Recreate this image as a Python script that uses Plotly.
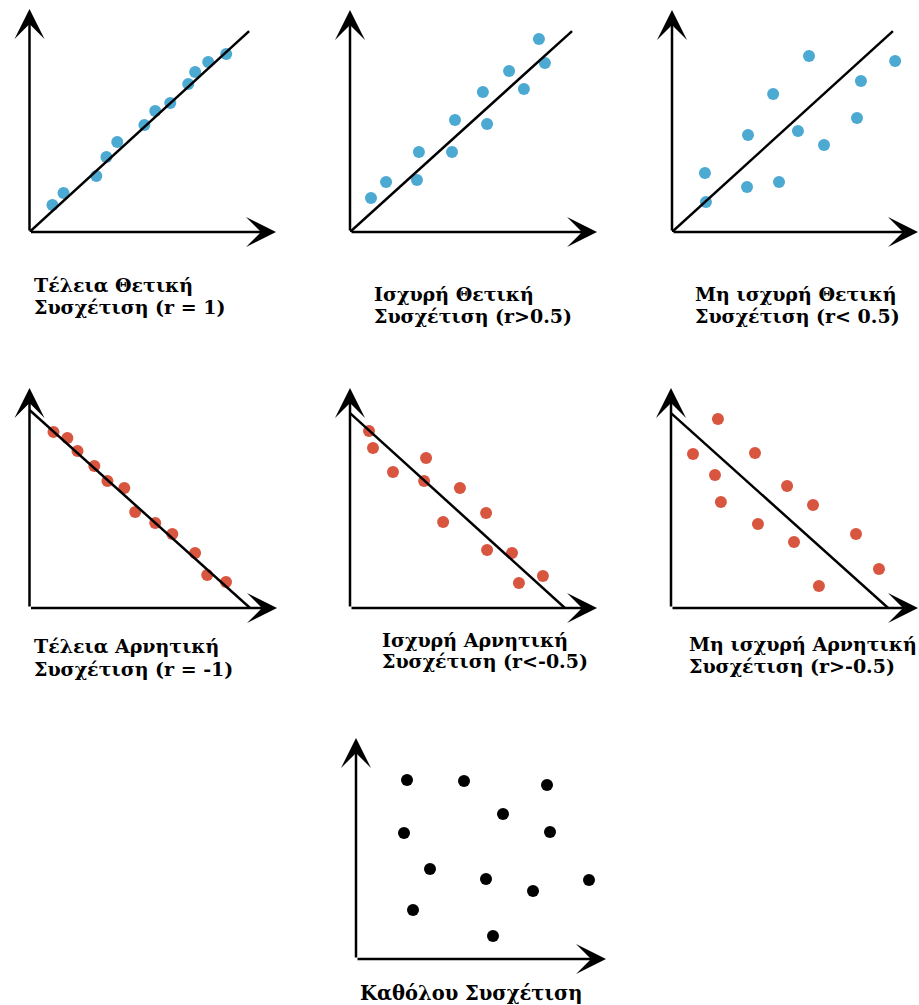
import plotly.graph_objects as go

W, H = 919, 1005
BLUE = "#4BA9D2"
RED = "#D8553F"
BLACK = "#000000"

# --- dot values (0-10 units on each panel) ---
p1_x = [0.93, 1.38, 2.71, 3.12, 3.56, 4.66, 5.10, 5.71, 6.44, 6.72, 7.25, 7.98]
p1_y = [1.21, 1.75, 2.51, 3.36, 4.04, 4.80, 5.43, 5.78, 6.64, 7.17, 7.62, 7.98]

p2_x = [0.85, 1.46, 2.71, 2.79, 4.13, 4.25, 5.55, 5.38, 6.44, 7.04, 7.65, 7.89]
p2_y = [1.53, 2.25, 2.34, 3.60, 3.60, 5.05, 4.86, 6.31, 7.25, 6.44, 8.69, 7.61]

p3_x = [1.34, 1.38, 3.09, 3.05, 4.11, 4.35, 5.57, 5.12, 6.18, 7.52, 7.68, 9.07]
p3_y = [2.66, 1.35, 4.37, 2.03, 6.22, 2.25, 7.93, 4.55, 3.92, 5.14, 6.80, 7.70]

p4_x = [0.97, 1.53, 1.94, 2.62, 3.15, 3.83, 4.27, 5.08, 5.77, 6.69, 7.18, 7.94]
p4_y = [8.00, 7.73, 7.14, 6.45, 5.77, 5.45, 4.36, 3.86, 3.36, 2.50, 1.50, 1.18]

p5_x = [0.77, 0.93, 1.74, 3.08, 3.00, 4.45, 3.77, 5.51, 5.55, 6.56, 6.84, 7.81]
p5_y = [8.05, 7.27, 6.18, 6.82, 5.77, 5.45, 3.91, 4.32, 2.64, 2.50, 1.14, 1.45]

p6_x = [1.90, 0.89, 3.40, 1.78, 2.02, 4.70, 5.75, 3.52, 4.98, 7.49, 8.42, 5.99]
p6_y = [8.59, 7.00, 7.05, 6.05, 4.82, 5.55, 4.68, 3.82, 3.00, 3.36, 1.77, 1.00]

p7_x = [2.04, 4.32, 7.64, 5.88, 7.76, 1.92, 2.96, 5.20, 7.08, 9.32, 2.28, 5.48]
p7_y = [8.10, 8.05, 7.87, 6.56, 5.75, 5.70, 4.07, 3.62, 3.08, 3.57, 2.22, 1.04]

# --- trend lines (start, end) ---
p1_line_x, p1_line_y = [0, 8.91], [0, 9.01]
p2_line_x, p2_line_y = [0, 8.99], [0, 9.05]
p3_line_x, p3_line_y = [0, 8.98], [0, 9.05]
p4_line_x, p4_line_y = [0, 8.91], [9.00, 0]
p5_line_x, p5_line_y = [0, 8.70], [8.86, 0]
p6_line_x, p6_line_y = [0, 8.79], [8.86, 0]

# --- captions ---
labels = [
    ["Τέλεια Θετική", "Συσχέτιση (r = 1)"],
    ["Ισχυρή Θετική", "Συσχέτιση (r>0.5)"],
    ["Μη ισχυρή Θετική", "Συσχέτιση (r< 0.5)"],
    ["Τέλεια Αρνητική", "Συσχέτιση (r = -1)"],
    ["Ισχυρή Αρνητική", "Συσχέτιση (r<-0.5)"],
    ["Μη ισχυρή Αρνητική", "Συσχέτιση (r>-0.5)"],
    ["Καθόλου Συσχέτιση"],
]

panels = [
    dict(x=p1_x, y=p1_y, lx=p1_line_x, ly=p1_line_y, c=BLUE),
    dict(x=p2_x, y=p2_y, lx=p2_line_x, ly=p2_line_y, c=BLUE),
    dict(x=p3_x, y=p3_y, lx=p3_line_x, ly=p3_line_y, c=BLUE),
    dict(x=p4_x, y=p4_y, lx=p4_line_x, ly=p4_line_y, c=RED),
    dict(x=p5_x, y=p5_y, lx=p5_line_x, ly=p5_line_y, c=RED),
    dict(x=p6_x, y=p6_y, lx=p6_line_x, ly=p6_line_y, c=RED),
    dict(x=p7_x, y=p7_y, lx=None, ly=None, c=BLACK),
]

# pixel frame of each panel: origin (ox, oy), arrow tips (tx, ty)
frames = [
    (29.5, 232, 276, 9),
    (350, 232, 597, 10),
    (672, 232, 918, 10),
    (29.5, 608, 277, 388),
    (350, 608, 597, 388),
    (671, 608, 918, 388),
    (356, 959, 606, 738),
]

# caption placement: left x, centre y of each line, font size
caption_pos = [
    (32, [285, 307], 19),
    (372, [294, 316], 19),
    (693, [294, 316], 19),
    (32, [646, 669], 19),
    (380, [640, 661], 19),
    (687, [644, 666], 19),
    (358, [993], 19.5),
]

fig = go.Figure()
layout = {}

for i, (p, fr) in enumerate(zip(panels, frames)):
    n = "" if i == 0 else str(i + 1)
    xa, ya = "x" + n, "y" + n
    ox, oy, tx, ty = fr
    layout["xaxis" + n] = dict(domain=[ox / W, tx / W], range=[0, 10], visible=False,
                              anchor=ya, fixedrange=True)
    layout["yaxis" + n] = dict(domain=[(H - oy) / H, (H - ty) / H], range=[0, 10],
                              visible=False, anchor=xa, fixedrange=True)

    fig.add_trace(go.Scatter(x=p["x"], y=p["y"], mode="markers", xaxis=xa, yaxis=ya,
                             marker=dict(size=12, color=p["c"]), cliponaxis=False,
                             hoverinfo="skip", showlegend=False))
    if p["lx"] is not None:
        fig.add_trace(go.Scatter(x=p["lx"], y=p["ly"], mode="lines", xaxis=xa, yaxis=ya,
                                 line=dict(color=BLACK, width=2.5), cliponaxis=False,
                                 hoverinfo="skip", showlegend=False))

    # axes with arrow heads
    for (x0, y0) in [(0, 1), (1, 0)]:
        fig.add_annotation(xref=xa + " domain", yref=ya + " domain",
                           axref=xa + " domain", ayref=ya + " domain",
                           x=x0, y=y0, ax=0, ay=0, text="", showarrow=True,
                           arrowhead=3, arrowsize=2.0, arrowwidth=2.5, arrowcolor=BLACK)

    lx, ys, fs = caption_pos[i]
    for txt, yc in zip(labels[i], ys):
        fig.add_annotation(xref="paper", yref="paper", x=lx / W, y=(H - yc) / H,
                           xanchor="left", yanchor="middle", showarrow=False, text=txt,
                           font=dict(family="DejaVu Serif", size=fs, color=BLACK,
                                     weight="bold"))

fig.update_layout(width=W, height=H, margin=dict(l=0, r=0, t=0, b=0),
                  paper_bgcolor="white", plot_bgcolor="white", **layout)

# the page body has an 8px default margin; drop it so the figure sits at 0,0
fig.write_html("out.html", config={"displayModeBar": False},
               post_script="document.body.style.margin='0px';")
